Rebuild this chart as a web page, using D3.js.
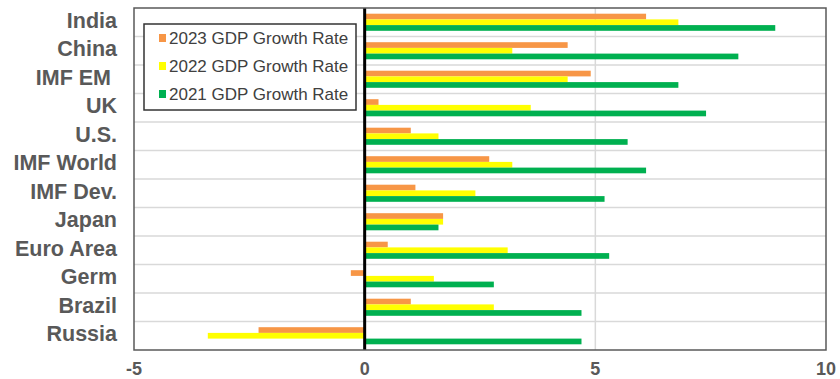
<!DOCTYPE html>
<html>
<head>
<meta charset="utf-8">
<script src="https://cdn.jsdelivr.net/npm/d3@7"></script>
<style>
  html, body { margin: 0; padding: 0; background: #fff; }
  svg { display: block; }
  text { font-family: "Liberation Sans", Arial, sans-serif; }
</style>
</head>
<body>
<svg id="chart" width="840" height="379"></svg>
<script>
// Economies, top to bottom
const categories = ["India", "China", "IMF EM ", "UK", "U.S.", "IMF World", "IMF Dev.", "Japan", "Euro Area", "Germ", "Brazil", "Russia"];

// Real GDP growth, percent
const growth2023 = [6.1, 4.4, 4.9, 0.3, 1.0, 2.7, 1.1, 1.7, 0.5, -0.3, 1.0, -2.3];
const growth2022 = [6.8, 3.2, 4.4, 3.6, 1.6, 3.2, 2.4, 1.7, 3.1, 1.5, 2.8, -3.4];
const growth2021 = [8.9, 8.1, 6.8, 7.4, 5.7, 6.1, 5.2, 1.6, 5.3, 2.8, 4.7, 4.7];

const seriesNames = ["2023 GDP Growth Rate", "2022 GDP Growth Rate", "2021 GDP Growth Rate"];
const seriesValues = [growth2023, growth2022, growth2021];
const seriesColors = ["#F79646", "#FFFF00", "#00B050"];

const xTicks = [-5, 0, 5, 10];

const svg = d3.select("#chart");
const plot = { left: 134, right: 826, top: 8, bottom: 350 };

const x = d3.scaleLinear().domain([-5, 10]).range([plot.left, plot.right]);
const y = d3.scaleBand().domain(categories).range([plot.top, plot.bottom]).padding(0);
const ySub = d3.scaleBand().domain(seriesNames).range([0, y.bandwidth()])
  .paddingInner(0).paddingOuter(1);

// horizontal separators between categories
svg.append("g")
  .selectAll("line")
  .data(categories.slice(1))
  .join("line")
  .attr("x1", plot.left).attr("x2", plot.right)
  .attr("y1", d => y(d)).attr("y2", d => y(d))
  .attr("stroke", "#d9d9d9").attr("stroke-width", 1.5);

// vertical gridlines
svg.append("g")
  .selectAll("line")
  .data(xTicks.filter(t => t > -5 && t < 10))
  .join("line")
  .attr("x1", d => x(d)).attr("x2", d => x(d))
  .attr("y1", plot.top).attr("y2", plot.bottom)
  .attr("stroke", "#d9d9d9").attr("stroke-width", 1.5);

// bars
const rows = [];
categories.forEach((c, i) => {
  seriesNames.forEach((s, j) => rows.push({ cat: c, series: s, value: seriesValues[j][i], color: seriesColors[j] }));
});

svg.append("g")
  .selectAll("rect")
  .data(rows)
  .join("rect")
  .attr("x", d => x(Math.min(0, d.value)))
  .attr("width", d => Math.abs(x(d.value) - x(0)))
  .attr("y", d => y(d.cat) + ySub(d.series))
  .attr("height", ySub.bandwidth())
  .attr("fill", d => d.color);

// zero axis line
svg.append("line")
  .attr("x1", x(0)).attr("x2", x(0))
  .attr("y1", plot.top).attr("y2", plot.bottom)
  .attr("stroke", "#000").attr("stroke-width", 3);

// plot frame
svg.append("rect")
  .attr("x", plot.left).attr("y", plot.top)
  .attr("width", plot.right - plot.left).attr("height", plot.bottom - plot.top)
  .attr("fill", "none").attr("stroke", "#595959").attr("stroke-width", 1.5);

// category labels
svg.append("g")
  .selectAll("text")
  .data(categories)
  .join("text")
  .attr("x", 117)
  .attr("y", d => y(d) + y.bandwidth() / 2 - 2)
  .attr("dy", "0.36em")
  .attr("text-anchor", "end")
  .attr("font-size", 21.5)
  .attr("font-weight", "bold")
  .attr("fill", "#595959")
  .style("white-space", "pre")
  .text(d => d);

// x axis tick labels
svg.append("g")
  .selectAll("text")
  .data(xTicks)
  .join("text")
  .attr("x", d => x(d))
  .attr("y", 375)
  .attr("text-anchor", "middle")
  .attr("font-size", 18)
  .attr("font-weight", "bold")
  .attr("fill", "#595959")
  .text(d => d < 0 ? "-" + Math.abs(d) : d);

// legend
const legend = svg.append("g");
legend.append("rect")
  .attr("x", 144).attr("y", 24)
  .attr("width", 212).attr("height", 86)
  .attr("fill", "#fff").attr("stroke", "#333").attr("stroke-width", 1.5);

const legendItems = legend.selectAll("g.item")
  .data(seriesNames)
  .join("g")
  .attr("class", "item")
  .attr("transform", (d, i) => `translate(0, ${38 + i * 28})`);

legendItems.append("rect")
  .attr("x", 159).attr("y", -4)
  .attr("width", 7).attr("height", 8)
  .attr("fill", (d, i) => seriesColors[i]);

legendItems.append("text")
  .attr("x", 169).attr("y", 0)
  .attr("dy", "0.36em")
  .attr("font-size", 17)
  .attr("fill", "#404040")
  .text(d => d);
</script>
</body>
</html>
